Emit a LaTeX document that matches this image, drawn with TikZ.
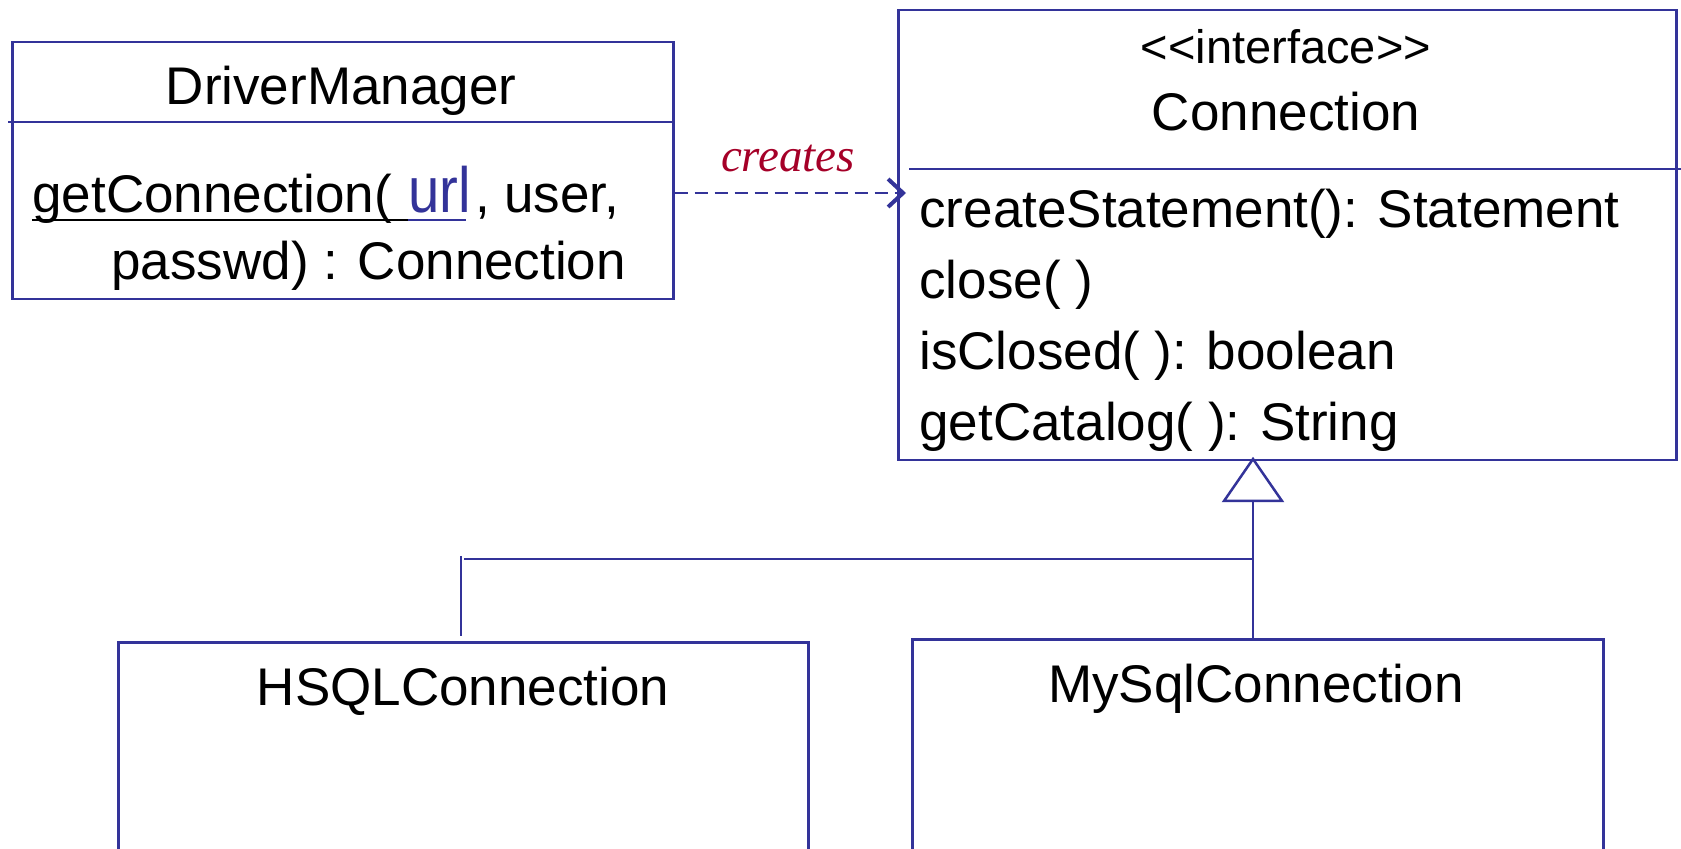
\documentclass[tikz,border=0pt]{standalone}
\usepackage{fontspec}
\setmainfont{Liberation Sans}
\newfontfamily\serifit{Liberation Serif}
\usetikzlibrary{arrows.meta}
\definecolor{umlblue}{RGB}{51,51,153}
\definecolor{crimson}{RGB}{165,0,40}
\begin{document}
\begin{tikzpicture}[x=0.5pt,y=-0.5pt,
  box/.style={draw=umlblue,line width=1.25pt,inner sep=0pt,anchor=north west},
  txt/.style={inner sep=0pt,font=\fontsize{26.5}{30}\selectfont},
  umlline/.style={draw=umlblue,line width=1.25pt},
  creates/.style={umlline,dash pattern=on 6.5pt off 3.5pt,-{Straight Barb[length=7.5pt,width=14pt,line width=2pt]}}]
\useasboundingbox (0,0) rectangle (1681,849);
% boxes
\node[box,minimum width=330.5pt,minimum height=128.5pt] (dm) at (11,41) {};
\node[box,minimum width=389pt,minimum height=225pt] (conn) at (897,9) {};
\node[box,minimum width=345pt,minimum height=130pt] (hs) at (117,641) {};
\node[box,minimum width=345.5pt,minimum height=131pt] (my) at (911,638) {};
% separators
\draw[umlline] (8,122) -- (dm.east |- 0,122);
\draw[umlline] (909,169) -- (1681,169);
% DriverManager
\node[txt,anchor=base] (dmname) at (341,105) {DriverManager};
\node[txt,anchor=base west] (gc) at (32,213) {getConnection(};
\node[inner sep=0pt,anchor=base west,text=umlblue,font=\fontsize{32}{36}\selectfont] (url) at ([xshift=8pt]gc.base east) {\scalebox{0.88}[1]{url}};
\node[txt,anchor=base west] (usr) at ([xshift=1.5pt]url.base east) {, user,};
\draw[black,line width=1pt] ([yshift=-3.5pt]gc.base west) -- ([yshift=-3.5pt]url.base west);
\draw[umlblue,line width=1pt] ([yshift=-3.5pt]url.base west) -- ([yshift=-3.5pt,xshift=-3pt]url.base east);
\node[txt,anchor=base west] (pw) at (111,280) {passwd) : Connection};
% Connection
\node[inner sep=0pt,anchor=base,font=\fontsize{23.5}{26}\selectfont] (stereo) at (1286,64) {<\kern0pt<interface>\kern0pt>};
\node[txt,anchor=base] (cname) at (1286,131) {Connection};
\node[txt,anchor=base west] (op1) at (919,228) {createStatement(): Statement};
\node[txt,anchor=base west] (op2) at (919,299) {close( )};
\node[txt,anchor=base west] (op3) at (919,370) {isClosed( ): boolean};
\node[txt,anchor=base west] (op4) at (919,441) {getCatalog( ): String};
% subclasses
\node[txt,anchor=base] (hsname) at (463,705) {HSQLConnection};
\node[txt,anchor=base] (myname) at (1256,702) {MySqlConnection};
% creates dependency
\node[inner sep=0pt,anchor=base,text=crimson,font=\serifit\itshape\fontsize{23.5}{26}\selectfont] (cr) at (788,172) {creates};
\coordinate (tip) at (906,193);
\draw[creates] (dm.east |- tip) -- (tip);
% generalization
\coordinate (apex) at (1253,459);
\coordinate (tbase) at (1253,501);
\draw[umlline,fill=white] (apex) -- ++(29,42) -- ++(-58,0) -- cycle;
\draw[umlline] (tbase) -- (tbase |- my.north);
\draw[umlline] (1253,559) -- (464,559);
\draw[umlline] (461,556) -- (461,636);
\end{tikzpicture}
\end{document}
